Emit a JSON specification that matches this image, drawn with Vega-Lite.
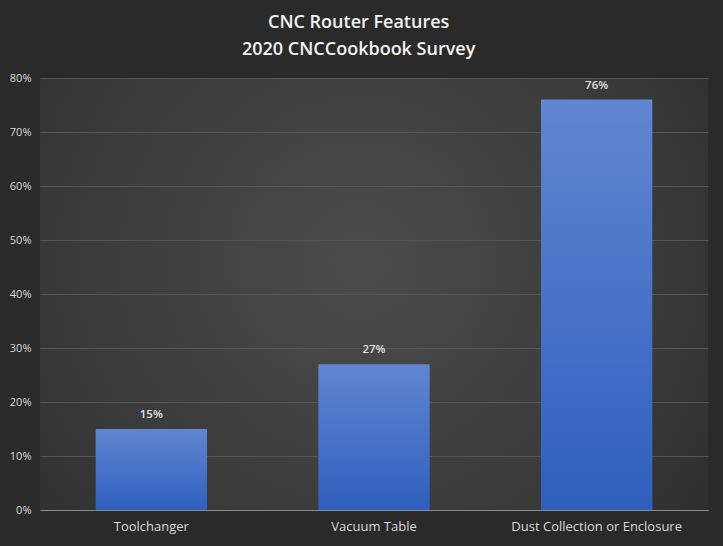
{
  "$schema": "https://vega.github.io/schema/vega-lite/v6.json",
  "width": 668,
  "height": 432,
  "autosize": {"type": "none"},
  "padding": {"left": 40, "top": 78, "right": 15, "bottom": 36},
  "background": "#2a2a2a",
  "title": {
    "text": ["CNC Router Features", "2020 CNCCookbook Survey"],
    "frame": "bounds",
    "anchor": "middle",
    "font": "Open Sans",
    "fontSize": 18,
    "fontWeight": 600,
    "color": "#f2f2f2",
    "lineHeight": 27,
    "offset": 13
  },
  "config": {
    "view": {
      "stroke": null,
      "fill": {
        "gradient": "radial",
        "x1": 0.48, "y1": 0.45, "x2": 0.48, "y2": 0.45,
        "r1": 0, "r2": 0.75,
        "stops": [
          {"offset": 0, "color": "#4b4b4b"},
          {"offset": 0.55, "color": "#3b3b3b"},
          {"offset": 1, "color": "#292929"}
        ]
      }
    },
    "axis": {
      "labelFont": "Open Sans",
      "labelColor": "#d9d9d9",
      "ticks": false,
      "title": null
    }
  },
  "data": {
    "values": [
      {"feature": "Toolchanger", "share": 0.15},
      {"feature": "Vacuum Table", "share": 0.27},
      {"feature": "Dust Collection or Enclosure", "share": 0.76}
    ]
  },
  "encoding": {
    "x": {
      "field": "feature",
      "type": "nominal",
      "sort": null,
      "scale": {"paddingInner": 0.5, "paddingOuter": 0.25},
      "axis": {
        "labelAngle": 0,
        "labelFontSize": 13,
        "labelPadding": 10,
        "domainColor": "#8c8c8c",
        "domainWidth": 1.2,
        "grid": false
      }
    },
    "y": {
      "field": "share",
      "type": "quantitative",
      "scale": {"domain": [0, 0.8], "nice": false},
      "axis": {
        "format": ".0%",
        "values": [0, 0.1, 0.2, 0.3, 0.4, 0.5, 0.6, 0.7, 0.8],
        "labelOverlap": false,
        "labelFontSize": 11,
        "labelPadding": 9,
        "domain": false,
        "grid": true,
        "gridColor": "#555555",
        "gridWidth": 1
      }
    }
  },
  "layer": [
    {
      "mark": {
        "type": "bar",
        "color": {
          "gradient": "linear",
          "x1": 0, "y1": 0, "x2": 0, "y2": 1,
          "stops": [
            {"offset": 0, "color": "#6186d2"},
            {"offset": 1, "color": "#2f5fbd"}
          ]
        }
      }
    },
    {
      "mark": {
        "type": "text",
        "dy": -14,
        "font": "Open Sans",
        "fontSize": 11.5,
        "fontWeight": 600,
        "color": "#e0e0e0"
      },
      "encoding": {
        "text": {"field": "share", "type": "quantitative", "format": ".0%"}
      }
    }
  ]
}
